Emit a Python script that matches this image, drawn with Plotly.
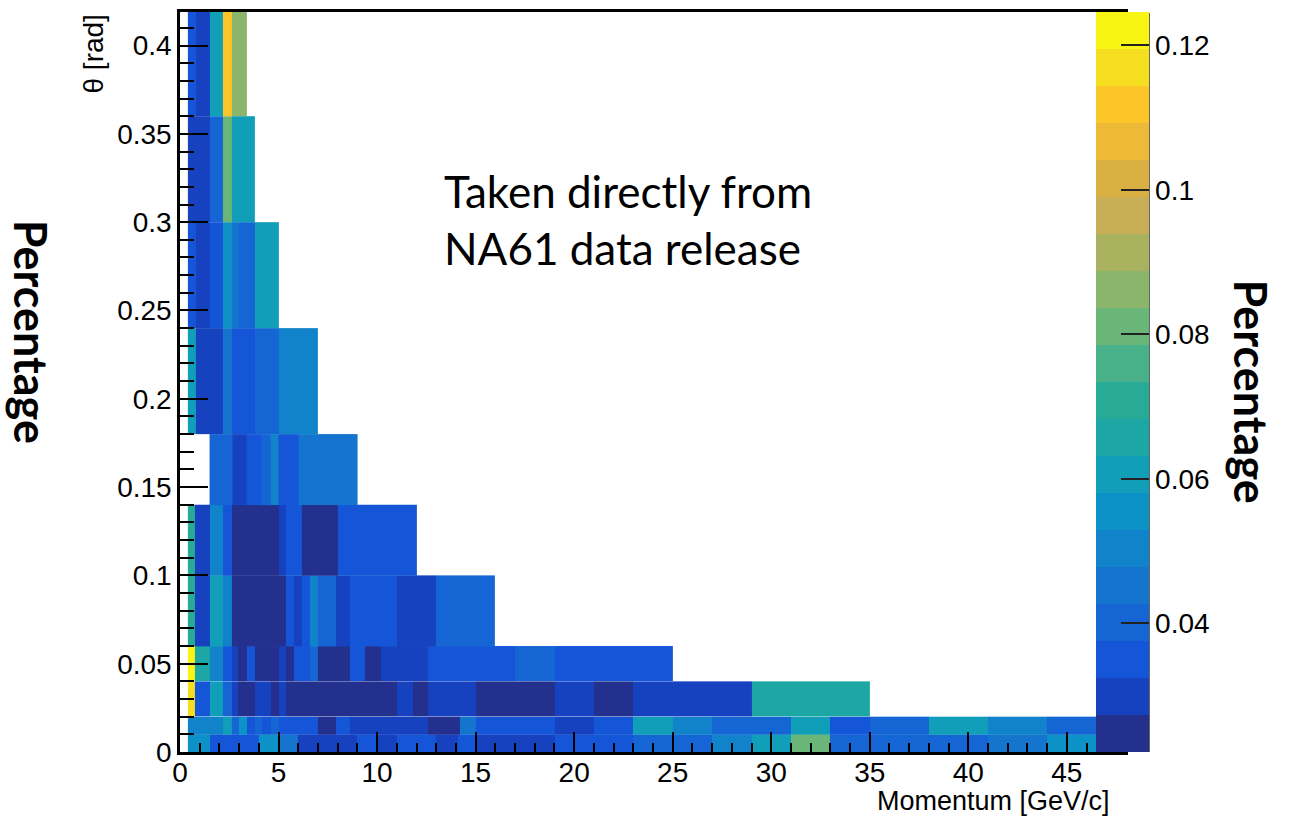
import plotly.graph_objects as go

# ---------------- data ----------------
theta_edges = [0.0, 0.01, 0.02, 0.04, 0.06, 0.10, 0.14, 0.18, 0.24, 0.30, 0.36, 0.42]

# momentum bin edges [GeV/c] and cell values for each theta bin
p_th000_010 = [0.4, 1.5, 4.0, 5.0, 6.0, 9.0, 10.0, 11.0, 13.0, 14.1, 15.0, 19.0, 21.0, 23.0,
               25.0, 27.0, 29.0, 31.0, 33.0, 35.0, 38.0, 41.0, 44.0, 48.0]
v_th000_010 = [0.056, 0.035, 0.056, 0.045, 0.030, 0.035, 0.030, 0.035, 0.030, 0.035, 0.030,
               0.035, 0.035, 0.040, 0.040, 0.050, 0.061, 0.081, 0.040, 0.040, 0.040, 0.045, 0.056]

p_th010_020 = [0.4, 2.2, 2.65, 3.0, 3.4, 3.8, 4.15, 4.6, 5.0, 7.0, 7.9, 8.6, 12.6, 14.2, 15.0,
               19.0, 21.0, 23.0, 25.0, 27.0, 31.0, 33.0, 35.0, 38.0, 41.0, 44.0, 48.0]
v_th010_020 = [0.050, 0.061, 0.040, 0.056, 0.035, 0.040, 0.035, 0.040, 0.035, 0.025, 0.035,
               0.030, 0.025, 0.045, 0.035, 0.030, 0.035, 0.061, 0.050, 0.040, 0.061, 0.035,
               0.040, 0.061, 0.050, 0.040]

p_th020_040 = [0.4, 0.75, 1.5, 2.2, 2.65, 2.95, 3.8, 4.6, 5.0, 5.35, 11.0, 11.8, 12.6, 15.0,
               19.0, 21.0, 23.0, 29.0, 35.0]
v_th020_040 = [0.117, 0.035, 0.061, 0.040, 0.030, 0.025, 0.030, 0.025, 0.030, 0.025, 0.030,
               0.025, 0.030, 0.025, 0.030, 0.025, 0.030, 0.066]

p_th040_060 = [0.4, 0.75, 1.5, 2.2, 2.65, 2.95, 3.4, 3.8, 5.0, 5.35, 5.8, 6.6, 7.0, 8.6, 9.4,
               10.2, 12.6, 17.0, 19.0, 25.0]
v_th040_060 = [0.122, 0.066, 0.050, 0.035, 0.030, 0.025, 0.035, 0.025, 0.030, 0.025, 0.035,
               0.040, 0.025, 0.035, 0.025, 0.030, 0.035, 0.040, 0.035]

p_th060_100 = [0.4, 0.75, 1.5, 2.2, 2.65, 5.35, 5.8, 6.2, 6.6, 7.0, 7.9, 8.6, 11.0, 13.0, 16.0]
v_th060_100 = [0.071, 0.030, 0.061, 0.050, 0.025, 0.035, 0.030, 0.035, 0.050, 0.040, 0.030,
               0.035, 0.030, 0.040]

p_th100_140 = [0.4, 0.75, 1.5, 2.2, 2.65, 5.0, 5.35, 6.2, 8.0, 12.0]
v_th100_140 = [0.071, 0.030, 0.050, 0.035, 0.025, 0.030, 0.035, 0.025, 0.035]

p_th140_180 = [1.5, 2.65, 3.4, 4.15, 4.6, 5.0, 6.0, 9.0]
v_th140_180 = [0.040, 0.030, 0.035, 0.040, 0.050, 0.035, 0.045]

p_th180_240 = [0.4, 0.8, 2.2, 2.65, 3.8, 5.0, 7.0]
v_th180_240 = [0.061, 0.030, 0.045, 0.035, 0.040, 0.050]

p_th240_300 = [0.4, 0.8, 1.5, 2.2, 2.65, 3.0, 3.8, 5.0]
v_th240_300 = [0.035, 0.030, 0.035, 0.056, 0.045, 0.040, 0.061]

p_th300_360 = [0.4, 1.5, 2.2, 2.65, 3.8]
v_th300_360 = [0.030, 0.040, 0.081, 0.061]

p_th360_420 = [0.4, 0.8, 1.5, 2.2, 2.65, 3.4]
v_th360_420 = [0.035, 0.030, 0.061, 0.112, 0.086]

row_edges = [p_th000_010, p_th010_020, p_th020_040, p_th040_060, p_th060_100, p_th100_140,
             p_th140_180, p_th180_240, p_th240_300, p_th300_360, p_th360_420]
row_values = [v_th000_010, v_th010_020, v_th020_040, v_th040_060, v_th060_100, v_th100_140,
              v_th140_180, v_th180_240, v_th240_300, v_th300_360, v_th360_420]

z_min, z_max = 0.0222, 0.1246
x_ticks = [0, 5, 10, 15, 20, 25, 30, 35, 40, 45]
y_ticks = [0, 0.05, 0.1, 0.15, 0.2, 0.25, 0.3, 0.35, 0.4]
y_ticktext = ["0", "0.05", "0.1", "0.15", "0.2", "0.25", "0.3", "0.35", "0.4"]
cb_ticks = [0.04, 0.06, 0.08, 0.1, 0.12]
cb_ticktext = ["0.04", "0.06", "0.08", "0.1", "0.12"]

# ---------------- style ----------------
band_colors = ["#23308E", "#1642C0", "#1556D8", "#1565D4", "#1474CE", "#1083CA", "#0C92C6",
               "#109EB8", "#1CA6A4", "#28AB96", "#48B189", "#6AB578", "#8AB56B", "#A8B25F",
               "#C8AE57", "#DAB045", "#EDB936", "#FCC62A", "#F5DD20", "#F8F514"]
nb = len(band_colors)
colorscale = []
for i, c in enumerate(band_colors):
    colorscale.append([i / nb, c])
    colorscale.append([(i + 1) / nb, c])

TICKFONT = dict(family="Liberation Sans, Arial, sans-serif", size=28, color="black")

fig = go.Figure()
for k, (edges, vals) in enumerate(zip(row_edges, row_values)):
    fig.add_trace(go.Heatmap(
        x=edges, y=[theta_edges[k], theta_edges[k + 1]], z=[vals],
        coloraxis="coloraxis", hoverinfo="skip", xgap=0, ygap=0,
    ))

# pixel geometry helpers (plot area 180..1125 x, 9..752 y)
L, R, T, B = 180, 1125, 9, 752
W, H = R - L, B - T


def px(xp):
    return (xp - L) / W


def py(yp):
    return (B - yp) / H


fig.update_layout(
    width=1291, height=819,
    margin=dict(l=L, r=1291 - R, t=T, b=819 - B, pad=0),
    paper_bgcolor="white", plot_bgcolor="white",
    showlegend=False,
    coloraxis=dict(
        cmin=z_min, cmax=z_max, colorscale=colorscale,
        colorbar=dict(
            x=px(1096), xanchor="left", xref="paper",
            y=0.5, yanchor="middle", len=1, lenmode="fraction",
            thickness=53, thicknessmode="pixels", xpad=0, ypad=0,
            outlinewidth=0,
            tickmode="array", tickvals=cb_ticks, ticktext=cb_ticktext,
            ticks="inside", ticklen=28, tickwidth=2, tickcolor="#222",
            tickfont=TICKFONT,
        ),
    ),
    xaxis=dict(
        range=[0, 47.95], showgrid=False, zeroline=False,
        showline=True, linecolor="black", linewidth=2.5, mirror=True,
        ticks="inside", ticklen=20, tickwidth=2, tickcolor="black",
        tickmode="array", tickvals=x_ticks, ticktext=[str(v) for v in x_ticks],
        tickfont=TICKFONT, ticklabelstandoff=-6,
        minor=dict(ticks="inside", ticklen=9, tickwidth=2, tickcolor="black",
                   dtick=1, tick0=0, showgrid=False),
    ),
    yaxis=dict(
        range=[0, 0.419], showgrid=False, zeroline=False,
        showline=True, linecolor="black", linewidth=2.5, mirror=True,
        ticks="inside", ticklen=28, tickwidth=2, tickcolor="black",
        tickmode="array", tickvals=y_ticks, ticktext=y_ticktext,
        tickfont=TICKFONT,
        minor=dict(ticks="inside", ticklen=14, tickwidth=2, tickcolor="black",
                   dtick=0.01, tick0=0, showgrid=False),
    ),
)

# right border of the colour palette
fig.add_shape(type="line", xref="paper", yref="paper", x0=px(1149), x1=px(1149),
              y0=0, y1=py(10), line=dict(color="#333", width=1.5), layer="above")

fig.add_annotation(text="Momentum [GeV/c]", xref="paper", yref="paper",
                   x=px(1112), y=py(801), xanchor="right", yanchor="middle",
                   showarrow=False,
                   font=dict(family="Liberation Sans, Arial, sans-serif", size=27, color="black"))
fig.add_annotation(text="θ [rad]", xref="paper", yref="paper",
                   x=px(93), y=py(10), xanchor="center", yanchor="top", textangle=-90,
                   showarrow=False,
                   font=dict(family="Liberation Sans, Arial, sans-serif", size=28, color="black"))
fig.add_annotation(text="<b>Percentage</b>", xref="paper", yref="paper",
                   x=px(31), y=py(330), xanchor="center", yanchor="middle", textangle=90,
                   showarrow=False, font=dict(family="Lato, sans-serif", size=45, color="black"))
fig.add_annotation(text="<b>Percentage</b>", xref="paper", yref="paper",
                   x=px(1251), y=py(390), xanchor="center", yanchor="middle", textangle=90,
                   showarrow=False, font=dict(family="Lato, sans-serif", size=45, color="black"))
fig.add_annotation(text="Taken directly from<br>NA61 data release", xref="paper", yref="paper",
                   x=px(442), y=py(217), xanchor="left", yanchor="middle", align="left",
                   showarrow=False, font=dict(family="Lato, sans-serif", size=44, color="black"))

fig.write_html("out.html")
